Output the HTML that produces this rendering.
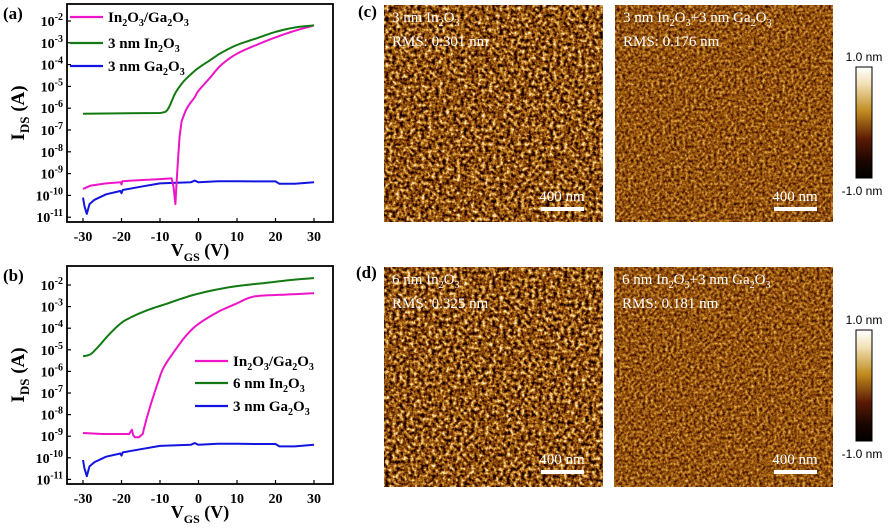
<!DOCTYPE html>
<html><head><meta charset="utf-8"><style>
body{margin:0;background:#fff;width:888px;height:524px;overflow:hidden}
svg text{font-family:"Liberation Serif",serif}
</style></head><body>
<svg id="s" width="888" height="524" viewBox="0 0 888 524" xmlns="http://www.w3.org/2000/svg">
<defs>
<filter id="r1" x="0" y="0" width="100%" height="100%" color-interpolation-filters="sRGB">
<feTurbulence type="fractalNoise" baseFrequency="0.28" numOctaves="4" seed="3"/>
<feColorMatrix type="matrix" values="1.7 0 0 0 -0.45  1.7 0 0 0 -0.45  1.7 0 0 0 -0.45  0 0 0 0 1"/>
<feComponentTransfer>
<feFuncR type="table" tableValues="0.05 0.3 0.5 0.68 0.85 0.97 1"/>
<feFuncG type="table" tableValues="0 0.1 0.25 0.42 0.62 0.85 0.97"/>
<feFuncB type="table" tableValues="0 0.01 0.03 0.08 0.25 0.6 0.9"/>
</feComponentTransfer>
</filter>
<filter id="r2" x="0" y="0" width="100%" height="100%" color-interpolation-filters="sRGB">
<feTurbulence type="fractalNoise" baseFrequency="0.35" numOctaves="4" seed="9"/>
<feColorMatrix type="matrix" values="1.05 0 0 0 -0.12  1.05 0 0 0 -0.12  1.05 0 0 0 -0.12  0 0 0 0 1"/>
<feComponentTransfer>
<feFuncR type="table" tableValues="0.05 0.3 0.5 0.68 0.85 0.97 1"/>
<feFuncG type="table" tableValues="0 0.1 0.25 0.42 0.62 0.85 0.97"/>
<feFuncB type="table" tableValues="0 0.01 0.03 0.08 0.25 0.6 0.9"/>
</feComponentTransfer>
</filter>
<linearGradient id="cb" x1="0" y1="0" x2="0" y2="1">
<stop offset="0" stop-color="#fff"/><stop offset="0.15" stop-color="#f2e2b8"/><stop offset="0.4" stop-color="#c08a1e"/><stop offset="0.65" stop-color="#5a1a04"/><stop offset="0.85" stop-color="#1a0500"/><stop offset="1" stop-color="#000"/>
</linearGradient>
</defs>
<g id="afm"></g>
<g id="plots"></g>
</svg>
<script>
var s=document.getElementById('plots'),A=document.getElementById('afm');
var h='';
function T(x,y,t,o){o=o||{};h+='<text x="'+x+'" y="'+y+'" font-size="'+(o.fs||14)+'" font-weight="'+(o.fw||'bold')+'" fill="'+(o.c||'#000')+'" text-anchor="'+(o.a||'start')+'"'+(o.tr?' transform="'+o.tr+'"':'')+'>'+t+'</text>';}
function sub(t,fs){return '<tspan font-size="'+(fs||10)+'" baseline-shift="-4">'+t+'</tspan>';}
var In='In'+sub('2')+'O'+sub('3'),Ga='Ga'+sub('2')+'O'+sub('3');
function panel(oy,y2,dy,curves,leg,lab){
 var L=67,R=333,Tp=oy+4,B=oy+222;
 var X=function(v){return 83+(v+30)*3.85},Y=function(l){return y2+(-2-l)*dy};
 h+='<rect x="'+L+'" y="'+Tp+'" width="'+(R-L)+'" height="'+(B-Tp)+'" fill="none" stroke="#000" stroke-width="1.8"/>';
 for(var e=-2;e>=-11;e--){var y=Y(e);h+='<line x1="'+L+'" x2="'+(L+4)+'" y1="'+y+'" y2="'+y+'" stroke="#000" stroke-width="1.2"/>';
  T(63,y+5,'10<tspan font-size="10" baseline-shift="6">'+e+'</tspan>',{fs:14,a:'end'});}
 for(var v=-30;v<=30;v+=10){var x=X(v);h+='<line x1="'+x+'" x2="'+x+'" y1="'+B+'" y2="'+(B-4)+'" stroke="#000" stroke-width="1.2"/>';T(x,B+19,v,{fs:14,a:'middle'});}
 T(200,B+34,'V<tspan font-size="12" baseline-shift="-5">GS</tspan> (V)',{fs:18,a:'middle'});
 T(0,0,'I<tspan font-size="13" baseline-shift="-5">DS</tspan> (A)',{fs:19,a:'middle',tr:'translate(24,'+(oy+113)+') rotate(-90)'});
 T(3,oy+19,lab,{fs:17});
 curves.forEach(function(c){var p=[];for(var i=0;i<c.p.length;i++)p.push(X(c.p[i][0]).toFixed(1)+','+Y(c.p[i][1]).toFixed(1));
  h+='<polyline points="'+p.join(' ')+'" fill="none" stroke="'+c.c+'" stroke-width="2" stroke-linejoin="round"/>';});
 leg.forEach(function(l){h+='<line x1="'+l[0]+'" x2="'+(l[0]+33)+'" y1="'+l[1]+'" y2="'+l[1]+'" stroke="'+l[2]+'" stroke-width="2.2"/>';T(l[0]+38,l[1]+5,l[3],{fs:15});});
}
function sm(pts){var o=[];for(var i=0;i<pts.length-1;i++){var p0=pts[Math.max(i-1,0)],p1=pts[i],p2=pts[i+1],p3=pts[Math.min(i+2,pts.length-1)];
 for(var t=0;t<1;t+=0.2){var t2=t*t,t3=t2*t;var f=function(a,b,c,d){return 0.5*(2*b+(-a+c)*t+(2*a-5*b+4*c-d)*t2+(-a+3*b-3*c+d)*t3)};o.push([f(p0[0],p1[0],p2[0],p3[0]),f(p0[1],p1[1],p2[1],p3[1])]);}}
 o.push(pts[pts.length-1]);return o;}
var blue=[[-30,-10.1],[-29.6,-10.5],[-29,-10.85],[-28.3,-10.4],[-27,-10.2],[-24,-9.95],[-20.3,-9.8],[-20,-9.9],[-19.7,-9.75],[-15,-9.6],[-10,-9.45],[-2,-9.4],[-1,-9.32],[0,-9.4],[5,-9.35],[10,-9.35],[15,-9.36],[20,-9.36],[21,-9.47],[25,-9.47],[30,-9.4]];
panel(0,21,21.8,[
 {c:'#1414e0',p:blue},
 {c:'#ee14c8',p:[[-30,-9.7],[-28,-9.55],[-24,-9.45],[-20.2,-9.4],[-20,-9.5],[-19.8,-9.35],[-15,-9.3],[-10,-9.25],[-7,-9.22],[-6.5,-9.6],[-6,-10.4],[-5.7,-9.4],[-5.3,-8.3],[-4.9,-7.3],[-4.4,-6.6]].concat(sm([[-4.4,-6.6],[-3,-6],[-1,-5.5],[0,-5.2],[3,-4.6],[6,-4],[10,-3.5],[15,-3.1],[20,-2.75],[25,-2.45],[30,-2.2]]))},
 {c:'#137a13',p:[[-30,-6.25],[-10,-6.22]].concat(sm([[-10,-6.22],[-8.5,-6.15],[-7.5,-5.9],[-6,-5.3],[-4,-4.8],[-2,-4.45],[0,-4.15],[3,-3.8],[6,-3.45],[10,-3.1],[15,-2.8],[20,-2.5],[25,-2.3],[30,-2.2]]))}
],[[70,17,'#ee14c8',In+'/'+Ga],[70,43,'#137a13','3 nm '+In],[70,66,'#1414e0','3 nm '+Ga]],'(a)');
panel(262,285,21.6,[
 {c:'#1414e0',p:blue},
 {c:'#ee14c8',p:[[-30,-8.85],[-25,-8.9],[-18,-8.9],[-17.3,-8.7],[-17,-8.95],[-16.5,-9.05],[-15.5,-9.05],[-14.5,-8.9]].concat(sm([[-14.5,-8.9],[-13.5,-8.2],[-12,-7.3],[-10.5,-6.5],[-9,-5.8],[-6,-5],[-3,-4.3],[0,-3.8],[5,-3.25],[10,-2.85],[13,-2.6],[16,-2.5],[22,-2.45],[30,-2.38]]))},
 {c:'#137a13',p:sm([[-30,-5.3],[-28,-5.2],[-26,-4.85],[-23,-4.25],[-20,-3.75],[-17,-3.45],[-13,-3.15],[-8,-2.85],[-3,-2.55],[0,-2.4],[5,-2.2],[10,-2.05],[15,-1.95],[20,-1.85],[25,-1.75],[30,-1.68]])}
],[[195,361,'#ee14c8',In+'/'+Ga],[195,383,'#137a13','6 nm '+In],[195,406,'#1414e0','3 nm '+Ga]],'(b)');
T(358,17,'(c)',{fs:17});T(356,278,'(d)',{fs:17});
var a='';
var sIn='In<tspan font-size="10" baseline-shift="-4">2</tspan>O<tspan font-size="10" baseline-shift="-4">3</tspan>';
var sGa='Ga<tspan font-size="10" baseline-shift="-4">2</tspan>O<tspan font-size="10" baseline-shift="-4">3</tspan>';
function img(x,y,w,hh,f,t1,t2,bx,by){
 a+='<rect x="'+x+'" y="'+y+'" width="'+w+'" height="'+hh+'" fill="#7a4a0c" filter="url(#'+f+')"/>';
 a+='<text x="'+(x+8)+'" y="'+(y+17)+'" font-size="15" fill="#fff">'+t1+'</text>';
 a+='<text x="'+(x+8)+'" y="'+(y+41)+'" font-size="15" fill="#fff">'+t2+'</text>';
 a+='<text x="'+(bx+21)+'" y="'+(by-6)+'" font-size="15" fill="#fff" text-anchor="middle">400 nm</text>';
 a+='<rect x="'+bx+'" y="'+by+'" width="43" height="4" fill="#fff"/>';
}
img(384,5,219,217,'r1','3 nm '+sIn,'RMS: 0.301 nm',541,207);
img(615,5,218,217,'r2','3 nm '+sIn+'+3 nm '+sGa,'RMS: 0.176 nm',774,207);
img(384,267,219,220,'r1','6 nm '+sIn,'RMS: 0.325 nm',541,470);
img(614,267,219,220,'r2','6 nm '+sIn+'+3 nm '+sGa,'RMS: 0.181 nm',774,470);
function cbar(y){a+='<rect x="856" y="'+y+'" width="16" height="111" fill="url(#cb)" stroke="#000" stroke-width="1"/>';
 a+='<text x="864" y="'+(y-6)+'" font-size="12" text-anchor="middle" style="font-family:Liberation Sans,sans-serif">1.0 nm</text>';
 a+='<text x="862" y="'+(y+128)+'" font-size="12" text-anchor="middle" style="font-family:Liberation Sans,sans-serif">-1.0 nm</text>';}
cbar(67);cbar(330);
A.innerHTML=a;s.innerHTML=h;
</script>
</body></html>
